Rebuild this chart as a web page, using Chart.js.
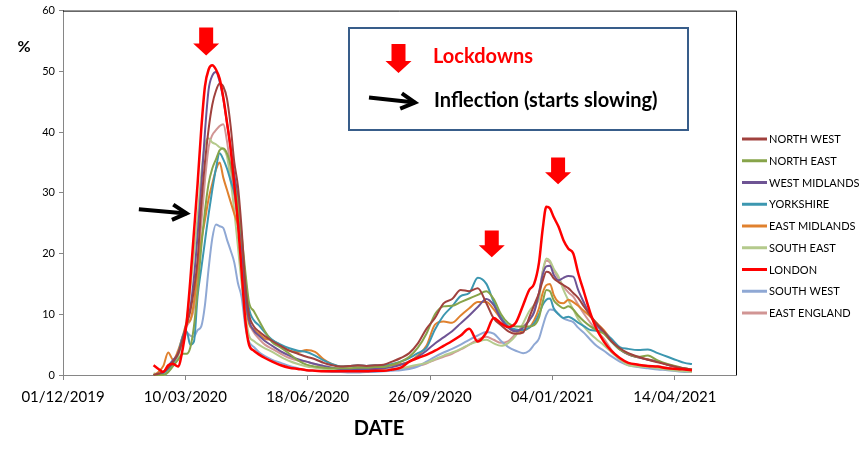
<!DOCTYPE html>
<html>
<head>
<meta charset="utf-8">
<script src="https://cdn.jsdelivr.net/npm/chart.js@4.4.0/dist/chart.umd.min.js"></script>
<style>
    body { margin: 0; background: #fff; }
    canvas { display: block; }
</style>
</head>
<body>
<canvas id="chart" width="861" height="449"></canvas>
<script>
// x values are days counted from 01/12/2019
const days = [
    74, 78, 82, 86, 90, 94, 98, 101, 104, 107,
    110, 113, 116, 119, 122, 125, 128, 131, 134, 137,
    140, 143, 146, 149, 152, 156, 160, 165, 171, 178,
    185, 192, 199, 206, 213, 220, 227, 234, 241, 248,
    255, 262, 269, 276, 283, 290, 297, 304, 311, 318,
    325, 332, 339, 346, 352, 358, 364, 370, 376, 381,
    385, 389, 392, 395, 398, 401, 405, 409, 413, 417,
    421, 426, 431, 436, 442, 448, 455, 462, 470, 478,
    486, 494, 502, 508, 514
];
const tickLabels = ['01/12/2019', '10/03/2020', '18/06/2020', '26/09/2020', '04/01/2021', '14/04/2021'];
const regions = ['NORTH WEST', 'NORTH EAST', 'WEST MIDLANDS', 'YORKSHIRE', 'EAST MIDLANDS',
    'SOUTH EAST', 'LONDON', 'SOUTH WEST', 'EAST ENGLAND'];
const colors = ['#A0413D', '#87A44A', '#6E5494', '#3C97B0', '#E0812E',
    '#B4CA8C', '#FF0000', '#8FA8D4', '#D19594'];

const northWest = [
    0, 0.2, 0.5, 1.2, 2.2, 3.5, 6.0, 8.3, 10.5, 14.0,
    19.0, 28.0, 35.0, 40.5, 44.5, 46.8, 48.0, 47.5, 45.5, 41.0,
    35.0, 31.0, 24.0, 15.0, 10.0, 8.0, 7.2, 6.4, 5.6, 4.8,
    4.0, 3.5, 3.0, 2.6, 2.0, 1.6, 1.4, 1.5, 1.6, 1.5,
    1.6, 1.7, 2.2, 2.8, 3.6, 5.2, 7.6, 9.4, 11.8, 12.5,
    14.0, 13.8, 14.3, 11.8, 9.3, 8.2, 7.2, 6.8, 7.0, 9.5,
    11.5, 13.5, 15.5, 17.0, 16.8, 15.9, 15.3, 14.8, 14.3, 13.5,
    12.7, 11.2, 9.8, 8.5, 7.2, 5.6, 4.4, 3.6, 3.0, 2.5,
    2.1, 1.7, 1.3, 1.1, 0.9
];
const northEast = [
    0, 0, 0, 0.5, 1.5, 2.5, 3.5, 3.5, 4.5, 8.0,
    14.0, 21.0, 27.0, 31.5, 34.0, 35.5, 37.0, 37.3, 36.5, 34.5,
    31.5, 28.0, 23.0, 17.0, 12.0, 10.5, 9.0, 7.2, 5.4, 4.5,
    3.5, 2.4, 1.7, 1.4, 1.2, 1.1, 1.1, 1.1, 1.2, 1.2,
    1.3, 1.3, 1.7, 2.2, 3.0, 4.5, 6.8, 10.0, 11.3, 11.4,
    12.0, 12.6, 13.2, 13.8, 12.5, 10.0, 8.5, 8.0, 8.0, 8.0,
    8.2, 9.5, 12.0, 14.0, 13.8, 12.3, 11.5, 11.0, 11.3, 10.8,
    9.8, 8.8, 8.0, 7.4, 6.8, 5.5, 4.2, 3.5, 3.0, 3.2,
    2.4, 1.8, 1.4, 1.1, 0.9
];
const westMidlands = [
    0, 0.2, 0.5, 1.5, 2.5, 3.5, 6.0, 8.5, 11.0, 16.0,
    23.0, 31.0, 40.0, 47.0, 49.3, 49.9, 48.3, 45.5, 41.5, 37.5,
    33.0, 29.0, 22.0, 13.0, 9.0, 7.3, 6.5, 5.6, 4.8, 3.9,
    3.2, 2.6, 2.2, 1.8, 1.5, 1.2, 1.0, 1.0, 1.0, 1.0,
    1.0, 1.1, 1.3, 1.7, 2.2, 3.0, 4.0, 5.2, 6.2, 7.2,
    8.5, 9.8, 11.2, 12.5, 11.5, 9.2, 7.8, 7.2, 7.8, 9.0,
    10.3, 13.5, 16.5, 17.9, 18.0, 16.5, 15.6, 16.0, 16.3, 16.2,
    14.0, 11.8, 9.8, 8.2, 7.0, 5.6, 4.2, 3.4, 2.9, 2.5,
    2.2, 1.7, 1.3, 1.0, 0.8
];
const yorkshire = [
    0, 0, 0.3, 1.0, 2.0, 3.5, 6.5, 7.2, 5.0, 5.5,
    13.0, 17.5, 22.0, 26.5, 30.5, 34.0, 36.5, 35.5, 34.0, 32.0,
    30.0, 27.0, 22.0, 16.0, 11.0, 9.0, 8.2, 7.0, 5.8, 5.0,
    4.4, 4.0, 3.8, 3.2, 2.4, 1.8, 1.4, 1.5, 1.6, 1.5,
    1.6, 1.6, 1.8, 2.2, 2.8, 3.6, 4.5, 7.5, 9.8, 11.3,
    13.0, 13.5, 16.0, 15.0, 12.0, 9.5, 8.0, 7.5, 7.4, 7.8,
    8.5, 10.0, 11.5, 12.4, 12.6, 11.0, 10.0, 9.4, 9.6, 9.2,
    8.6, 8.0, 7.4, 7.3, 7.0, 6.0, 4.6, 4.3, 4.1, 4.2,
    3.6, 3.0, 2.4, 2.0, 1.8
];
const eastMidlands = [
    0, 0.5, 1.5, 3.7, 2.5, 4.0, 6.5, 8.5, 9.0, 12.0,
    17.0, 22.0, 25.5, 29.0, 31.5, 33.8, 35.0, 32.5, 30.5, 28.5,
    26.5, 24.5, 19.0, 12.0, 8.5, 7.5, 6.8, 6.0, 5.7, 4.9,
    4.0, 3.8, 4.1, 3.8, 2.6, 1.8, 1.4, 1.4, 1.5, 1.4,
    1.5, 1.5, 1.6, 1.8, 2.2, 3.2, 4.8, 8.3, 8.8, 8.6,
    9.8, 11.0, 12.0, 12.0, 10.8, 9.2, 7.8, 7.2, 7.3, 7.8,
    9.0, 11.0, 13.5, 14.8, 15.0, 13.2, 12.0, 11.8, 12.4, 12.0,
    11.4, 10.5, 9.6, 8.6, 7.4, 5.8, 4.3, 3.4, 2.9, 2.6,
    2.2, 1.7, 1.3, 1.0, 0.9
];
const southEast = [
    0.3, 0, 0, 0.5, 1.5, 3.0, 6.0, 9.0, 14.0, 20.0,
    26.0, 33.0, 38.0, 39.0, 38.3, 38.0, 37.5, 37.2, 36.0, 32.0,
    27.0, 21.0, 15.0, 10.0, 6.5, 5.6, 5.0, 4.4, 3.8, 3.0,
    2.3, 1.8, 1.4, 1.2, 1.0, 0.9, 0.9, 0.8, 0.8, 0.8,
    0.8, 0.8, 0.9, 1.1, 1.4, 1.7, 2.0, 2.6, 3.2, 3.7,
    4.3, 5.0, 5.5, 5.8, 5.2, 4.8, 5.3, 6.5, 8.5, 10.5,
    11.5, 12.5, 17.0, 19.2, 18.8, 17.5, 16.2, 14.0, 12.3, 10.8,
    9.2, 7.9, 6.8, 5.9, 4.9, 3.8, 2.6, 1.6, 1.4, 1.3,
    1.1, 0.9, 0.7, 0.6, 0.5
];
const london = [
    1.6, 1.0, 0.5, 1.6, 1.8, 1.4, 4.5, 8.6, 15.5, 23.5,
    31.5, 40.5, 47.5, 50.3, 51.0, 50.3, 48.8, 45.7, 41.6, 37.2,
    31.3, 25.0, 17.0, 9.0, 5.0, 4.0, 3.4, 2.8, 2.2, 1.6,
    1.2, 1.0, 0.8, 0.7, 0.6, 0.6, 0.6, 0.6, 0.6, 0.6,
    0.7, 0.7, 0.9, 1.2, 2.2, 2.8, 3.3, 4.0, 4.8, 5.6,
    6.5, 7.6, 5.5, 7.0, 9.4, 8.5, 7.9, 8.6, 11.5, 14.0,
    15.0, 18.5, 24.0, 27.7, 27.4, 26.0, 24.4, 22.2, 20.8, 20.0,
    16.8, 13.5, 10.2, 7.6, 5.5, 4.0, 2.8, 2.0, 1.7, 1.5,
    1.4, 1.1, 1.0, 0.9, 0.8
];
const southWest = [
    0, 0, 0.3, 1.0, 2.0, 3.5, 5.0, 7.0, 6.5, 6.3,
    7.4, 8.0, 11.5, 17.5, 22.5, 24.8, 24.5, 24.2, 22.3, 20.5,
    18.5, 15.1, 12.8, 8.0, 5.5, 4.6, 3.8, 3.1, 2.5, 2.0,
    1.5, 1.1, 0.8, 0.7, 0.6, 0.5, 0.5, 0.4, 0.4, 0.5,
    0.5, 0.6, 0.7, 0.8, 1.0, 1.4, 2.2, 3.0, 3.7, 4.3,
    5.0, 5.8, 6.5, 7.1, 6.8, 5.6, 4.6, 4.0, 3.6, 4.0,
    5.0, 6.0, 8.0, 9.9, 10.8, 10.7, 10.0, 9.3, 9.0, 8.7,
    7.8, 6.9, 5.8, 4.8, 4.0, 3.1, 2.2, 1.6, 1.3, 1.1,
    0.9, 0.8, 0.6, 0.5, 0.5
];
const eastEngland = [
    0, 0, 0.3, 1.0, 2.0, 3.5, 6.0, 8.0, 9.0, 11.0,
    17.0, 25.0, 32.0, 37.5, 39.5, 40.3, 41.0, 41.3, 38.5, 34.0,
    29.5, 25.0, 19.0, 13.0, 8.8, 7.0, 6.0, 5.0, 4.3, 3.5,
    2.8, 2.4, 2.2, 1.8, 1.3, 1.0, 0.9, 0.8, 0.8, 0.8,
    0.8, 0.9, 0.9, 1.0, 1.2, 1.5, 1.9, 2.5, 3.0, 3.5,
    4.2, 5.0, 5.8, 6.3, 5.8, 5.3, 5.6, 6.8, 8.0, 9.0,
    10.5, 13.5, 17.0, 18.8, 18.5, 17.3, 15.9, 14.6, 13.6, 12.9,
    11.6, 10.0, 8.6, 7.3, 6.0, 4.2, 2.6, 1.9, 1.7, 1.5,
    1.4, 1.2, 1.0, 0.9, 0.8
];
const series = [northWest, northEast, westMidlands, yorkshire, eastMidlands,
    southEast, london, southWest, eastEngland];

// annotations, in axis units
const lockdownArrows = [
    {day: 117, top: 57.2, tip: 52.6},
    {day: 350.4, top: 23.8, tip: 19.4},
    {day: 404.6, top: 35.8, tip: 31.4}
];
const inflectionArrow = {fromDay: 62, fromY: 27.3, toDay: 101, toY: 26.6};

function drawDownArrow(ctx, cx, top, tip) {
    const headStart = tip - 12;
    ctx.beginPath();
    ctx.moveTo(cx - 7, top);
    ctx.lineTo(cx + 7, top);
    ctx.lineTo(cx + 7, headStart);
    ctx.lineTo(cx + 13, headStart);
    ctx.lineTo(cx, tip);
    ctx.lineTo(cx - 13, headStart);
    ctx.lineTo(cx - 7, headStart);
    ctx.closePath();
    ctx.fillStyle = '#FF0000';
    ctx.fill();
}

function drawLineArrow(ctx, x1, y1, x2, y2) {
    const ang = Math.atan2(y2 - y1, x2 - x1);
    const len = 16, spread = 0.5;
    ctx.strokeStyle = '#000';
    ctx.lineWidth = 4;
    ctx.lineCap = 'butt';
    ctx.lineJoin = 'miter';
    ctx.beginPath();
    ctx.moveTo(x1, y1);
    ctx.lineTo(x2, y2);
    ctx.stroke();
    ctx.beginPath();
    ctx.moveTo(x2 - len * Math.cos(ang - spread), y2 - len * Math.sin(ang - spread));
    ctx.lineTo(x2, y2);
    ctx.lineTo(x2 - len * Math.cos(ang + spread), y2 - len * Math.sin(ang + spread));
    ctx.stroke();
}

const decorations = {
    id: 'decorations',
    afterDraw(chart) {
        const {ctx, chartArea: a, scales: {x, y}} = chart;
        ctx.save();

        // plot area frame, top and right
        ctx.strokeStyle = '#000';
        ctx.lineWidth = 1;
        ctx.beginPath();
        ctx.moveTo(a.left, a.top + 0.5);
        ctx.lineTo(a.right + 0.5, a.top + 0.5);
        ctx.lineTo(a.right + 0.5, a.bottom);
        ctx.stroke();

        lockdownArrows.forEach(arr => {
            drawDownArrow(ctx, x.getPixelForValue(arr.day), y.getPixelForValue(arr.top), y.getPixelForValue(arr.tip));
        });
        drawLineArrow(ctx,
            x.getPixelForValue(inflectionArrow.fromDay), y.getPixelForValue(inflectionArrow.fromY),
            x.getPixelForValue(inflectionArrow.toDay), y.getPixelForValue(inflectionArrow.toY));

        // key box
        ctx.strokeStyle = '#385D8A';
        ctx.lineWidth = 2;
        ctx.strokeRect(349, 28, 339, 102);
        drawDownArrow(ctx, 398.5, 44, 73);
        drawLineArrow(ctx, 369, 97.5, 415, 102.5);
        ctx.font = 'bold 20px Lato';
        ctx.textAlign = 'left';
        ctx.textBaseline = 'alphabetic';
        ctx.fillStyle = '#FF0000';
        ctx.fillText('Lockdowns', 433, 63);
        ctx.fillStyle = '#000';
        ctx.fillText('Inflection (starts slowing)', 434, 107);

        // axis titles
        ctx.font = 'bold 16px Lato';
        ctx.textAlign = 'center';
        ctx.fillText('%', 24, 52);
        ctx.font = 'bold 20px Lato';
        ctx.fillText('DATE', 379, 435);

        // legend
        ctx.font = '11px Lato';
        ctx.textAlign = 'left';
        ctx.textBaseline = 'middle';
        chart.data.datasets.forEach((ds, i) => {
            const ly = 139 + i * 21.75;
            ctx.strokeStyle = ds.borderColor;
            ctx.lineWidth = 3;
            ctx.beginPath();
            ctx.moveTo(a.right + 6, ly);
            ctx.lineTo(a.right + 31, ly);
            ctx.stroke();
            ctx.fillStyle = '#000';
            ctx.fillText(ds.label, a.right + 33, ly + 0.5);
        });
        ctx.restore();
    }
};

new Chart(document.getElementById('chart'), {
    type: 'line',
    data: {
        datasets: regions.map((name, i) => ({
            label: name,
            data: series[i].map((v, k) => ({x: days[k], y: v})),
            borderColor: colors[i],
            backgroundColor: colors[i],
            borderWidth: name === 'LONDON' ? 2.5 : 2,
            pointRadius: 0,
            cubicInterpolationMode: 'monotone',
            fill: false,
            clip: false,
            order: name === 'LONDON' ? 0 : 1
        }))
    },
    options: {
        responsive: false,
        animation: false,
        devicePixelRatio: 1,
        layout: {padding: {top: 10, right: 125, left: 0, bottom: 0}},
        plugins: {
            legend: {display: false},
            tooltip: {enabled: false}
        },
        scales: {
            x: {
                type: 'linear',
                min: 0,
                max: 550,
                afterFit(scale) { scale.height = 74; },
                ticks: {
                    stepSize: 100,
                    includeBounds: false,
                    maxRotation: 0,
                    autoSkip: false,
                    padding: 8,
                    color: '#000',
                    font: {family: 'Lato', size: 15},
                    callback: v => tickLabels[Math.round(v / 100)] ?? ''
                },
                grid: {drawOnChartArea: false, tickLength: 5, color: '#868686'},
                border: {color: '#868686'}
            },
            y: {
                min: 0,
                max: 60,
                afterFit(scale) { scale.width = 63; },
                ticks: {
                    stepSize: 10,
                    padding: 4,
                    color: '#000',
                    font: {family: 'Lato', size: 11}
                },
                grid: {drawOnChartArea: false, tickLength: 4, color: '#868686'},
                border: {color: '#868686'}
            }
        }
    },
    plugins: [decorations]
});
</script>
</body>
</html>
